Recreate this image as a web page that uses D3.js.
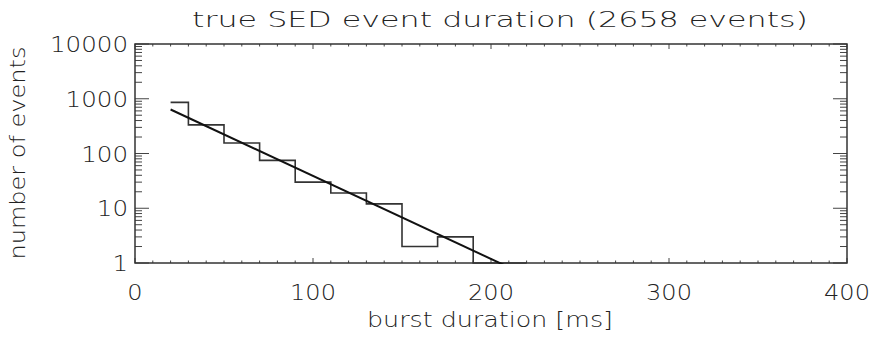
<!DOCTYPE html>
<html>
<head>
<meta charset="utf-8">
<script src="https://cdn.jsdelivr.net/npm/d3@7"></script>
<style>
  body { margin: 0; background: #fff; }
  text { font-family: "DejaVu Sans", sans-serif; font-weight: 200; fill: #222; }
</style>
</head>
<body>
<div id="chart"></div>
<script>
// histogram (IDL psym=10 style: one value per bin center)
const binCenters = [20, 40, 60, 80, 100, 120, 140, 160, 180, 200, 220];
const binCounts = [857, 333, 156, 75, 30, 19, 12, 2, 3, 1, 1];

// exponential fit, drawn as straight line on the log axis
const fitX = [20, 220];
const fitY = [637, 0.59];

const xTicks = [0, 100, 200, 300, 400];
const yTicks = [1, 10, 100, 1000, 10000];

const titleText = "true SED event duration (2658 events)";
const xLabel = "burst duration [ms]";
const yLabel = "number of events";

const width = 877, height = 338;
const margin = {left: 135, right: 30, top: 44, bottom: 75};

const svg = d3.select("#chart")
  .append("svg")
  .attr("width", width)
  .attr("height", height);

const x = d3.scaleLinear().domain([0, 400]).range([margin.left, width - margin.right]);
const y = d3.scaleLog().domain([1, 10000]).range([height - margin.bottom, margin.top]);

svg.append("defs").append("clipPath").attr("id", "plotclip")
  .append("rect")
  .attr("x", x(0)).attr("y", y(10000) - 2)
  .attr("width", x(400) - x(0)).attr("height", y(1) - y(10000) + 3);

// minor / major ticks
const xMinor = d3.range(0, 401, 10);
const yMinor = [];
for (let p = 0; p < 4; p++) for (let k = 2; k <= 9; k++) yMinor.push(k * Math.pow(10, p));

const ticks = svg.append("g").attr("stroke", "#444").attr("stroke-width", 1);

xMinor.forEach(v => {
  const len = v % 100 === 0 ? 5 : 2.5;
  ticks.append("line").attr("x1", x(v)).attr("x2", x(v)).attr("y1", y(1)).attr("y2", y(1) - len);
  ticks.append("line").attr("x1", x(v)).attr("x2", x(v)).attr("y1", y(10000)).attr("y2", y(10000) + len);
});
yTicks.concat(yMinor).forEach(v => {
  const len = yTicks.includes(v) ? 14 : 7;
  ticks.append("line").attr("x1", x(0)).attr("x2", x(0) + len).attr("y1", y(v)).attr("y2", y(v));
  ticks.append("line").attr("x1", x(400)).attr("x2", x(400) - len).attr("y1", y(v)).attr("y2", y(v));
});

// frame
svg.append("rect")
  .attr("x", x(0)).attr("y", y(10000))
  .attr("width", x(400) - x(0)).attr("height", y(1) - y(10000))
  .attr("fill", "none").attr("stroke", "#333").attr("stroke-width", 1.5);

// tick labels (wide, Hershey-like)
svg.append("g").selectAll("text").data(xTicks).enter()
  .append("text")
  .attr("x", d => x(d))
  .attr("y", 300)
  .attr("text-anchor", "middle")
  .attr("font-size", 22)
  .attr("textLength", d => String(d).length * 15.3)
  .attr("lengthAdjust", "spacingAndGlyphs")
  .text(d => d);

svg.append("g").selectAll("text").data(yTicks).enter()
  .append("text")
  .attr("x", 128)
  .attr("y", d => y(d) + 8)
  .attr("text-anchor", "end")
  .attr("font-size", 22)
  .attr("textLength", d => String(d).length * 15.6)
  .attr("lengthAdjust", "spacingAndGlyphs")
  .text(d => d);

// histogram steps
const pts = binCenters.map((c, i) => [c, binCounts[i]]);
const line = d3.line()
  .x(d => x(d[0]))
  .y(d => y(d[1]))
  .curve(d3.curveStep);

svg.append("path")
  .attr("clip-path", "url(#plotclip)")
  .attr("d", line(pts))
  .attr("fill", "none")
  .attr("stroke", "#333")
  .attr("stroke-width", 1.6);

// fit line
svg.append("path")
  .attr("clip-path", "url(#plotclip)")
  .attr("d", d3.line().x(d => x(d[0])).y(d => y(d[1]))(fitX.map((v, i) => [v, fitY[i]])))
  .attr("fill", "none")
  .attr("stroke", "#111")
  .attr("stroke-width", 2);

// titles
svg.append("text")
  .attr("x", 500).attr("y", 27)
  .attr("text-anchor", "middle")
  .attr("font-size", 22)
  .attr("textLength", 616)
  .attr("lengthAdjust", "spacingAndGlyphs")
  .text(titleText);

svg.append("text")
  .attr("x", 490).attr("y", 327)
  .attr("text-anchor", "middle")
  .attr("font-size", 21)
  .attr("textLength", 246)
  .attr("lengthAdjust", "spacingAndGlyphs")
  .text(xLabel);

svg.append("text")
  .attr("transform", `translate(25, 153) rotate(-90)`)
  .attr("text-anchor", "middle")
  .attr("font-size", 21)
  .attr("textLength", 213)
  .attr("lengthAdjust", "spacingAndGlyphs")
  .text(yLabel);
</script>
</body>
</html>
